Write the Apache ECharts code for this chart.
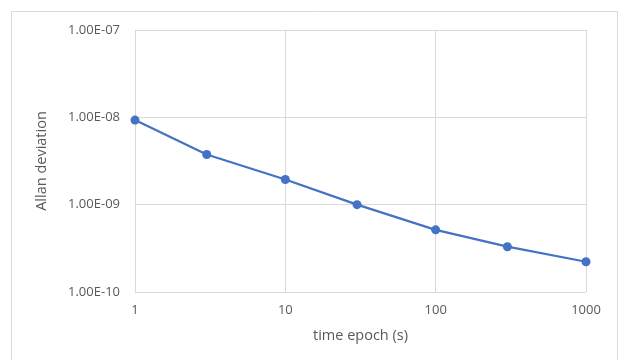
<!DOCTYPE html>
<html>
<head>
<meta charset="utf-8">
<script src="https://cdn.jsdelivr.net/npm/echarts@6/dist/echarts.min.js"></script>
<style>html,body{margin:0;padding:0;background:#fff;}#c{width:618px;height:360px;}</style>
</head>
<body>
<div id="c"></div>
<script>
const epochs = [1, 3, 10, 30, 100, 300, 1000];
const allanDev = [9.3e-9, 3.75e-9, 1.94e-9, 1.0e-9, 5.15e-10, 3.3e-10, 2.22e-10];
const xTickLabels = ['1', '10', '100', '1000'];
const yTickLabels = ['1.00E-10', '1.00E-09', '1.00E-08', '1.00E-07'];

const chart = echarts.init(document.getElementById('c'));
const font = '"Open Sans", sans-serif';
function fmtY(v) {
  const e = Math.round(Math.log10(v));
  return yTickLabels[e + 10] || '';
}
function fmtX(v) {
  const e = Math.round(Math.log10(v));
  return xTickLabels[e] || '';
}
chart.setOption({
  animation: false,
  backgroundColor: '#fff',
  graphic: [{
    type: 'rect', shape: {x: 11.5, y: 11.5, width: 606, height: 360},
    style: {fill: 'none', stroke: '#d9d9d9', lineWidth: 1}, silent: true, z: -1
  }],
  grid: {left: 135, right: 32, top: 30, bottom: 68, containLabel: false},
  xAxis: {
    type: 'log', logBase: 10, min: 1, max: 1000,
    name: 'time epoch (s)', nameLocation: 'middle', nameGap: 36,
    nameTextStyle: {color: '#595959', fontSize: 14.5, fontFamily: font},
    axisLine: {show: false}, axisTick: {show: false},
    axisLabel: {color: '#595959', fontSize: 13, fontFamily: font, margin: 12, formatter: fmtX},
    splitLine: {show: true, lineStyle: {color: '#d9d9d9', width: 1}},
    minorTick: {show: false}, minorSplitLine: {show: false}
  },
  yAxis: {
    type: 'log', logBase: 10, min: 1e-10, max: 1e-7,
    name: 'Allan deviation', nameLocation: 'middle', nameGap: 86, nameRotate: 90,
    nameTextStyle: {color: '#595959', fontSize: 14.5, fontFamily: font},
    axisLine: {show: false}, axisTick: {show: false},
    axisLabel: {color: '#595959', fontSize: 13, fontFamily: font, margin: 15, formatter: fmtY},
    splitLine: {show: true, lineStyle: {color: '#d9d9d9', width: 1}}
  },
  series: [{
    type: 'line',
    data: epochs.map((x, i) => [x, allanDev[i]]),
    symbol: 'circle', symbolSize: 9,
    lineStyle: {color: '#4472C4', width: 2.25},
    itemStyle: {color: '#4472C4'},
    clip: false
  }]
});
</script>
</body>
</html>
